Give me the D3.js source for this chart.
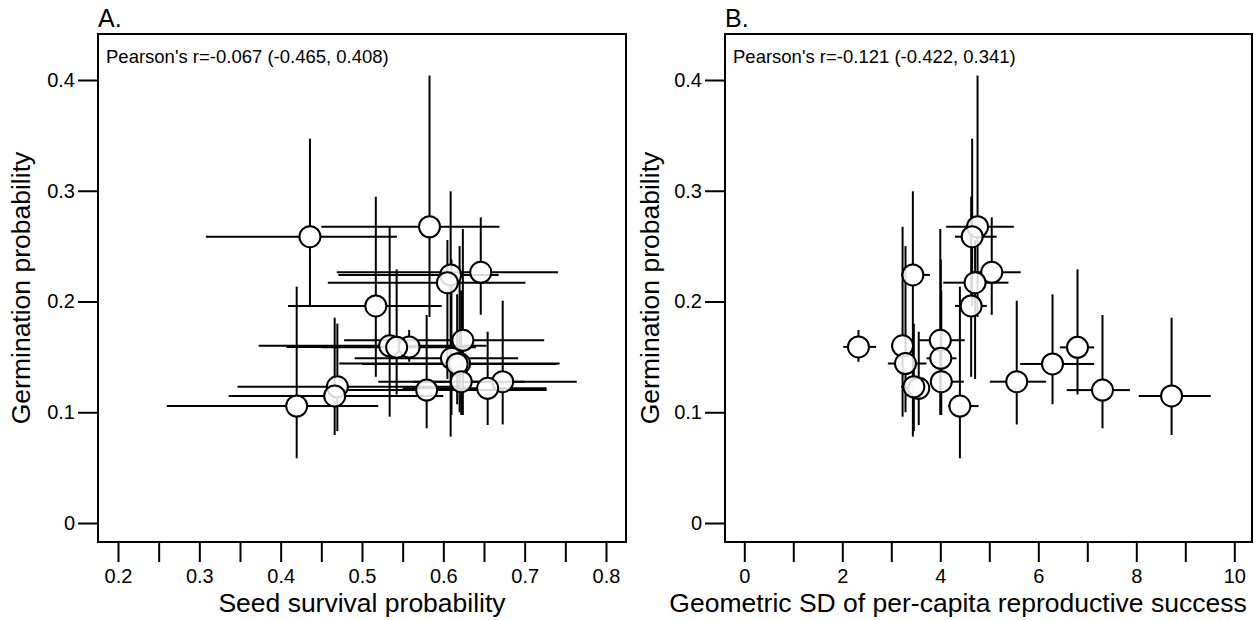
<!DOCTYPE html>
<html>
<head>
<meta charset="utf-8">
<script src="https://cdn.jsdelivr.net/npm/d3@7"></script>
<style>
  body { margin: 0; background: #fff; }
  svg text { font-family: "Liberation Sans", Arial, sans-serif; fill: #000; }
</style>
</head>
<body>
<svg id="chart" width="1255" height="620"></svg>
<script>
// germination probability (shared y for both panels), with CI
var germ   = [0.2675, 0.2585, 0.2264, 0.224, 0.217, 0.196, 0.165, 0.160, 0.159, 0.1586, 0.1487, 0.144, 0.1436, 0.1276, 0.1276, 0.1216, 0.123, 0.120, 0.1147, 0.1056];
var germLo = [0.186, 0.196, 0.188, 0.078, 0.13, 0.132, 0.0975, 0.096, 0.1456, 0.116, 0.0975, 0.10, 0.1072, 0.0975, 0.089, 0.0885, 0.083, 0.0855, 0.0795, 0.0584];
var germHi = [0.404, 0.347, 0.276, 0.2995, 0.2555, 0.2946, 0.2655, 0.2675, 0.1743, 0.229, 0.238, 0.25, 0.2065, 0.21, 0.2007, 0.1727, 0.18, 0.1878, 0.1854, 0.2134];

// seed survival probability (panel A)
var surv   = [0.583, 0.436, 0.646, 0.609, 0.605, 0.517, 0.624, 0.534, 0.558, 0.5426, 0.610, 0.620, 0.617, 0.622, 0.673, 0.6545, 0.4697, 0.5795, 0.4664, 0.4197];
var survLo = [0.450, 0.308, 0.469, 0.471, 0.458, 0.409, 0.478, 0.373, 0.407, 0.45, 0.491, 0.472, 0.50, 0.52, 0.563, 0.55, 0.347, 0.47, 0.336, 0.26];
var survHi = [0.669, 0.543, 0.741, 0.668, 0.701, 0.598, 0.724, 0.653, 0.612, 0.64, 0.692, 0.743, 0.74, 0.70, 0.764, 0.727, 0.62, 0.727, 0.60, 0.52];

// geometric SD of per-capita reproductive success (panel B)
var gsd    = [4.76, 4.65, 5.05, 3.44, 4.71, 4.63, 4.00, 3.23, 2.33, 6.80, 4.01, 3.29, 6.29, 4.02, 5.56, 3.56, 3.46, 7.31, 8.72, 4.40];
var gsdLo  = [4.12, 4.30, 4.67, 3.20, 4.06, 4.30, 3.55, 3.00, 2.02, 6.44, 3.72, 2.93, 5.63, 3.79, 5.01, 3.30, 3.20, 6.58, 8.05, 4.16];
var gsdHi  = [5.50, 5.15, 5.64, 3.79, 5.39, 4.95, 4.50, 3.45, 2.69, 7.14, 4.33, 3.72, 7.14, 4.48, 6.16, 3.75, 3.70, 7.87, 9.52, 4.78];

var yTicks = [0, 0.1, 0.2, 0.3, 0.4];
var xTicksA = [0.2, 0.25, 0.3, 0.35, 0.4, 0.45, 0.5, 0.55, 0.6, 0.65, 0.7, 0.75, 0.8];
var xTicksB = [0, 1, 2, 3, 4, 5, 6, 7, 8, 9, 10];

var panels = [
  {tag: "A.", left: 98, right: 626, x: surv, xLo: survLo, xHi: survHi,
   dom: [0.2, 0.8], rng: [118, 606], ticks: xTicksA,
   fmt: function(d) { return Math.round(d * 100) % 10 === 0 ? d3.format(".1f")(d) : ""; },
   note: "Pearson's r=-0.067 (-0.465, 0.408)", xlab: "Seed survival probability", xlabX: 362, ylabX: 30},
  {tag: "B.", left: 725, right: 1252, x: gsd, xLo: gsdLo, xHi: gsdHi,
   dom: [0, 10], rng: [744.3, 1234.3], ticks: xTicksB,
   fmt: function(d) { return d % 2 === 0 ? d : ""; },
   note: "Pearson's r=-0.121 (-0.422, 0.341)", xlab: "Geometric SD of per-capita reproductive success", xlabX: 958, ylabX: 659}
];

var boxTop = 34, boxBottom = 542, r = 10.5;
var svg = d3.select("#chart");
var y = d3.scaleLinear().domain([0, 0.4]).range([523, 80]);

panels.forEach(function(p) {
  var x = d3.scaleLinear().domain(p.dom).range(p.rng);
  var g = svg.append("g");
  var idx = d3.range(germ.length);

  // error bars, leaving a gap where the circle sits
  idx.forEach(function(i) {
    var cx = x(p.x[i]), cy = y(germ[i]);
    var segs = [
      [x(p.xLo[i]), cy, cx - r, cy],
      [cx + r, cy, x(p.xHi[i]), cy],
      [cx, y(germLo[i]), cx, cy + r],
      [cx, cy - r, cx, y(germHi[i])]
    ];
    segs.forEach(function(s) {
      if (s[1] === s[3] && s[2] <= s[0]) return;
      if (s[0] === s[2] && s[1] <= s[3]) return;
      g.append("line")
        .attr("x1", s[0]).attr("y1", s[1])
        .attr("x2", s[2]).attr("y2", s[3])
        .attr("stroke", "#000")
        .attr("stroke-width", 2);
    });
  });

  g.selectAll("circle.pt").data(idx).enter().append("circle")
    .attr("class", "pt")
    .attr("cx", function(i) { return x(p.x[i]); })
    .attr("cy", function(i) { return y(germ[i]); })
    .attr("r", r)
    .attr("fill", "#fff")
    .attr("fill-opacity", 0.85)
    .attr("stroke", "#000")
    .attr("stroke-width", 2);

  // box
  g.append("rect")
    .attr("x", p.left).attr("y", boxTop)
    .attr("width", p.right - p.left).attr("height", boxBottom - boxTop)
    .attr("fill", "none").attr("stroke", "#000").attr("stroke-width", 2);

  // y axis
  var yAxis = d3.axisLeft(y).tickValues(yTicks).tickSize(20).tickPadding(3)
    .tickFormat(function(d) { return d === 0 ? "0" : d3.format(".1f")(d); });
  var ya = g.append("g").attr("transform", "translate(" + p.left + ",0)").call(yAxis);
  ya.select(".domain").remove();
  ya.selectAll("line").attr("stroke-width", 2);
  ya.selectAll("text").style("font-size", "20px");

  // x axis
  var xAxis = d3.axisBottom(x).tickValues(p.ticks).tickSize(20).tickPadding(7).tickFormat(p.fmt);
  var xa = g.append("g").attr("transform", "translate(0," + boxBottom + ")").call(xAxis);
  xa.select(".domain").remove();
  xa.selectAll("line").attr("stroke-width", 2);
  xa.selectAll("text").style("font-size", "20px");

  g.append("text").attr("x", p.left).attr("y", 27).style("font-size", "25px").text(p.tag);
  g.append("text").attr("x", p.left + 8).attr("y", 63).style("font-size", "18.5px").text(p.note);
  g.append("text").attr("x", p.xlabX).attr("y", 612).attr("text-anchor", "middle")
    .style("font-size", "26.5px").text(p.xlab);
  g.append("text").attr("transform", "translate(" + p.ylabX + ",288) rotate(-90)")
    .attr("text-anchor", "middle").style("font-size", "26.5px").text("Germination probability");
});
</script>
</body>
</html>
